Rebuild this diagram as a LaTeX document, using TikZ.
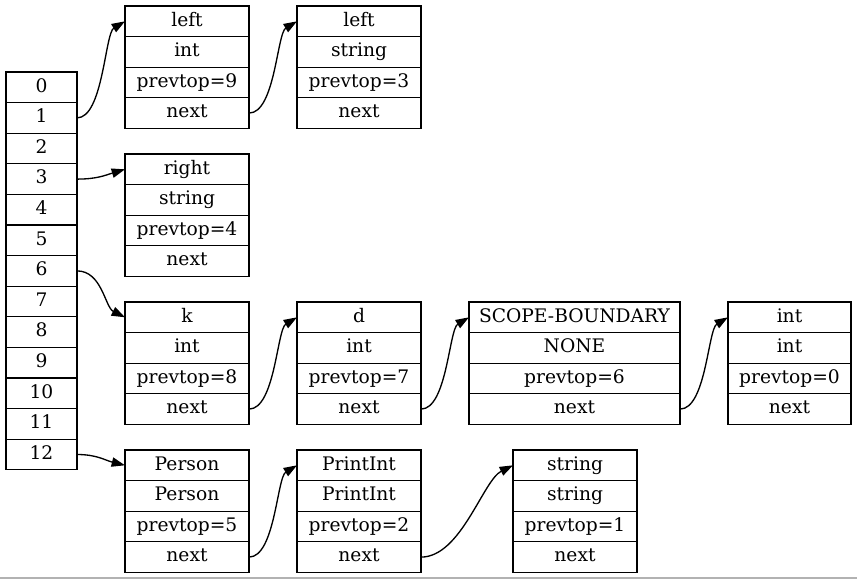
\documentclass[tikz,border=0pt]{standalone}
\usepackage{fontspec}
\setmainfont{DejaVu Serif}
\usetikzlibrary{arrows.meta}

% one record: name, x, y (top-left, px), width, four field labels
\newcommand\rec[8]{%
  \node[cell,minimum width=#4,anchor=north west] (#1-1) at (#2,#3) {#5};
  \node[cell,minimum width=#4,anchor=north] (#1-2) at (#1-1.south) {#6};
  \node[cell,minimum width=#4,anchor=north] (#1-3) at (#1-2.south) {#7};
  \node[cell,minimum width=#4,anchor=north] (#1-4) at (#1-3.south) {#8};
}

\begin{document}
\begin{tikzpicture}[x=0.75pt,y=-0.75pt,
  cell/.style={draw=black,line width=1pt,inner sep=0pt,outer sep=0pt,
    minimum height=22.95pt,text height=10pt,text depth=2.9pt,
    font=\fontsize{14}{17}\selectfont},
  link/.style={line width=1pt,-{Triangle[length=10pt,width=7pt]}}]
\useasboundingbox (0,0) rectangle (857,579);

% scope stack
\node[cell,minimum width=53.25pt,anchor=north west] (a0) at (6,72) {0};
\foreach \i [remember=\i as \p (initially 0)] in {1,...,12}{
  \node[cell,minimum width=53.25pt,anchor=north] (a\i) at (a\p.south) {\i};
}

% symbol records
\rec{left1}{125}{6}{93pt}{left}{int}{prevtop=9}{next}
\rec{left2}{297}{6}{93pt}{left}{string}{prevtop=3}{next}
\rec{right}{125}{154}{93pt}{right}{string}{prevtop=4}{next}
\rec{k}{125}{302}{93pt}{k}{int}{prevtop=8}{next}
\rec{d}{297}{302}{93pt}{d}{int}{prevtop=7}{next}
\rec{sb}{469}{302}{158.25pt}{SCOPE-BOUNDARY}{NONE}{prevtop=6}{next}
\rec{int}{728}{302}{92.25pt}{int}{int}{prevtop=0}{next}
\rec{person}{125}{450}{93pt}{Person}{Person}{prevtop=5}{next}
\rec{print}{297}{450}{93pt}{PrintInt}{PrintInt}{prevtop=2}{next}
\rec{str}{513}{450}{93pt}{string}{string}{prevtop=1}{next}

% links
\draw[link] (a1.east) .. controls +(26,0) and +(-20,12) .. (left1-1.west);
\draw[link] (left1-4.east) .. controls +(26,0) and +(-20,12) .. (left2-1.west);
\draw[link] (a3.east) .. controls +(20,0) and +(-20,6) .. (right-1.west);
\draw[link] (a6.east) .. controls +(25,0) and +(-20,-10) .. (k-1.west);
\draw[link] (k-4.east) .. controls +(26,0) and +(-20,12) .. (d-1.west);
\draw[link] (d-4.east) .. controls +(26,0) and +(-20,12) .. (sb-1.west);
\draw[link] (sb-4.east) .. controls +(26,0) and +(-20,12) .. (int-1.west);
\draw[link] (a12.east) .. controls +(20,0) and +(-20,-5) .. (person-1.west);
\draw[link] (person-4.east) .. controls +(26,0) and +(-20,12) .. (print-1.west);
\draw[link] (print-4.east) .. controls +(40,0) and +(-30,15) .. (str-1.west);

% bottom rule
\draw[gray!60,line width=1.5pt] (0,578) -- (857,578);
\end{tikzpicture}
\end{document}
